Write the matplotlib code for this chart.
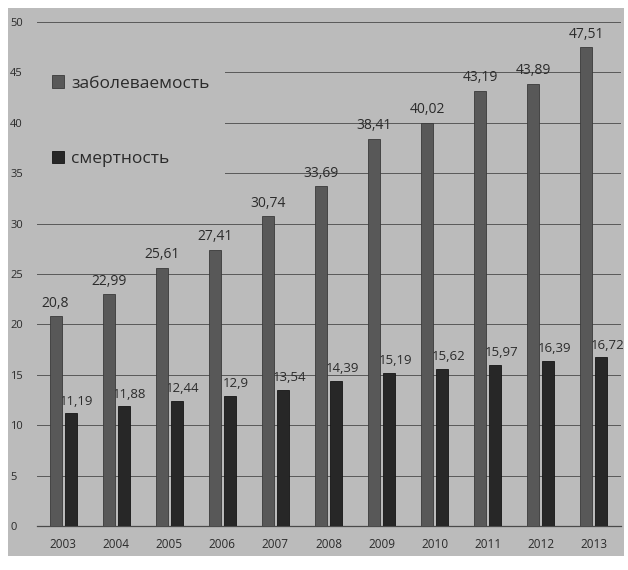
import matplotlib
matplotlib.use("Agg")
import matplotlib.pyplot as plt
import numpy as np

years = ["2003", "2004", "2005", "2006", "2007", "2008", "2009", "2010", "2011", "2012", "2013"]
incidence = [20.8, 22.99, 25.61, 27.41, 30.74, 33.69, 38.41, 40.02, 43.19, 43.89, 47.51]
mortality = [11.19, 11.88, 12.44, 12.9, 13.54, 14.39, 15.19, 15.62, 15.97, 16.39, 16.72]
series_names = ["заболеваемость", "смертность"]
y_ticks = [0, 5, 10, 15, 20, 25, 30, 35, 40, 45, 50]

BG = "#bbbbbb"
C_INC = "#585858"
C_MORT = "#272727"
TXT = "#2b2b2b"

plt.rcParams["font.family"] = ["Open Sans", "DejaVu Sans"]

fig = plt.figure(figsize=(6.28, 5.70), dpi=100)
fig.patch.set_facecolor("white")

# grey panel behind the chart
panel = fig.add_axes([8 / 628, 1 - 556 / 570, 616 / 628, 548 / 570], zorder=-5)
panel.set_facecolor(BG)
panel.set_xticks([])
panel.set_yticks([])
for s in panel.spines.values():
    s.set_visible(False)

ax = fig.add_axes([36.5 / 628, 1 - 526 / 570, 584 / 628, 504 / 570], zorder=1)
ax.patch.set_alpha(0)

x = np.arange(len(years))
w = 0.226
off = 0.1415
ax.bar(x - off, incidence, w, color=C_INC, edgecolor="#3a3a3a",
       linewidth=0.6, label=series_names[0], zorder=3)
ax.bar(x + off, mortality, w, color=C_MORT, edgecolor="#151515",
       linewidth=0.6, label=series_names[1], zorder=3)

def fmt(v):
    s = f"{v:.2f}".rstrip("0").rstrip(".")
    return s.replace(".", ",")

for xi, v in zip(x, incidence):
    ax.annotate(fmt(v), (xi - off, v), xytext=(0, 4), textcoords="offset points",
                ha="center", va="bottom", fontsize=10, color=TXT, zorder=4)
for xi, v in zip(x, mortality):
    ax.annotate(fmt(v), (xi + off, v), xytext=(4.5, 4), textcoords="offset points",
                ha="center", va="bottom", fontsize=9.5, color=TXT, zorder=2)

ax.set_xlim(-0.5, len(years) - 0.5)
ax.set_ylim(0, 50)
ax.set_yticks(y_ticks)
ax.set_yticklabels([str(t) for t in y_ticks], fontsize=8, color=TXT)
ax.set_xticks(x)
ax.set_xticklabels(years, fontsize=8.5, color=TXT)
ax.tick_params(axis="both", length=0)
ax.tick_params(axis="x", pad=9)
for lbl in ax.get_yticklabels():
    lbl.set_horizontalalignment("left")
ax.yaxis.set_tick_params(pad=19)

ax.grid(axis="y", color="#585858", linewidth=0.7, zorder=1)
ax.set_axisbelow(True)
for s in ["top", "right", "left"]:
    ax.spines[s].set_visible(False)
ax.spines["bottom"].set_color("#4a4a4a")
ax.spines["bottom"].set_linewidth(0.9)

leg = ax.legend(loc="upper left", bbox_to_anchor=(0.0, 0.925), frameon=True,
                facecolor=BG, edgecolor="none", framealpha=1,
                fontsize=12.5, handlelength=0.7, handleheight=0.7,
                handletextpad=0.4, labelspacing=3.4, borderpad=0.9,
                borderaxespad=0.0)
for t in leg.get_texts():
    t.set_color(TXT)
leg.set_zorder(2)

fig.savefig("out.png", dpi=100, facecolor=fig.get_facecolor())
